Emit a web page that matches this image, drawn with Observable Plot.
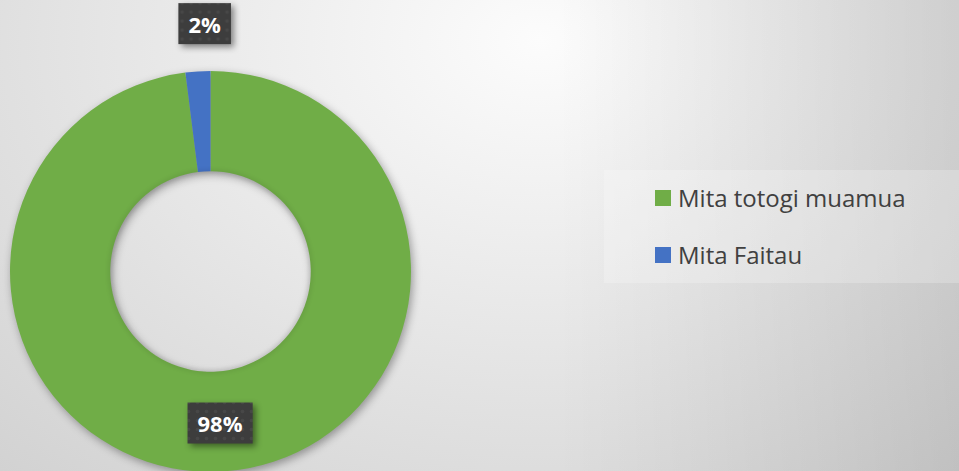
<!DOCTYPE html>
<html>
<head>
<meta charset="utf-8">
<script src="https://cdn.jsdelivr.net/npm/d3@7"></script>
<script src="https://cdn.jsdelivr.net/npm/@observablehq/plot@0.6"></script>
<style>
  html, body { margin: 0; padding: 0; }
  body { width: 959px; height: 471px; overflow: hidden; position: relative;
    font-family: "Open Sans", "Noto Sans", sans-serif;
    background:
      linear-gradient(to right, rgba(0,0,0,0) 58%, rgba(0,0,0,0.10) 100%),
      radial-gradient(ellipse 900px 650px at 540px 40px, #fcfcfc 0%, #cdcdcd 100%);
  }
  #chart { position: absolute; left: 0; top: 0; }
  #legend { position: absolute; left: 604px; top: 170px; width: 355px; height: 113px;
    background: rgba(255,255,255,0.22); }
  .item { position: absolute; left: 51px; display: flex; align-items: center; font-size: 24px; line-height: 24px; height: 24px; color: #404040; white-space: nowrap; }
  .sw { width: 16px; height: 16px; margin-right: 7px; flex: none; }
</style>
</head>
<body>
<div id="chart"></div>
<div id="legend"></div>
<script>
// ---- data ----
const categories = ["Mita totogi muamua", "Mita Faitau"];
const values = [98, 2];
const labels = ["98%", "2%"];
const palette = ["#70ad47", "#4472c4"];
// label anchor points in the chart's unit (radius = 1) coordinates
const labelX = [0.045, -0.032];
const labelY = [-0.763, 1.229];

const rows = categories.map((name, i) => ({ name, value: values[i], label: labels[i] }));
const pie = d3.pie().sort(null).value(d => d.value)(rows);
const labelRows = rows.map((d, i) => ({ label: d.label, x: labelX[i], y: labelY[i] }));
const colorOf = d3.scaleOrdinal(categories, palette);

const donutMark = (index, scales) => {
  const cx = scales.x(0), cy = scales.y(0);
  const R = scales.x(1) - cx;
  const arc = d3.arc().outerRadius(R).innerRadius(R * 0.5);
  const g = d3.create("svg:g")
    .attr("transform", `translate(${cx},${cy})`)
    .style("filter", "drop-shadow(2px 3px 4px rgba(0,0,0,0.35))");
  g.selectAll("path").data(pie).join("path")
    .attr("d", arc)
    .attr("fill", d => colorOf(d.data.name));
  g.append("circle").attr("r", R * 0.5).attr("fill", "none")
    .attr("stroke", "rgba(0,0,0,0.10)").attr("stroke-width", 3)
    .style("filter", "blur(2px)");
  return g.node();
};

const defsMark = () => {
  const defs = d3.create("svg:defs");
  const p = defs.append("pattern").attr("id", "dots").attr("width", 9).attr("height", 9).attr("patternUnits", "userSpaceOnUse");
  p.append("rect").attr("width", 9).attr("height", 9).attr("fill", "#3d3d3d");
  p.append("circle").attr("cx", 4.5).attr("cy", 4.5).attr("r", 1.8).attr("fill", "#474747");
  return defs.node();
};

const chart = Plot.plot({
  width: 959,
  height: 471,
  margin: 0,
  style: { background: "transparent", overflow: "visible" },
  x: { domain: [-1, 1], range: [10, 411], axis: null },
  y: { domain: [-1, 1], range: [472, 71], axis: null },
  marks: [
    defsMark,
    donutMark,
    Plot.text(labelRows, {
      x: "x", y: "y", text: "label",
      fill: "white", fontWeight: "bold", fontSize: 22,
      fontFamily: "Open Sans, sans-serif",
      className: "dlabels"
    })
  ]
});
document.getElementById("chart").appendChild(chart);

// label boxes behind text
d3.select(chart).selectAll("g.dlabels text").each(function () {
  const b = this.getBBox();
  const w = b.width + 20, h = 41;
  const cx = b.x + b.width / 2, cy = b.y + b.height / 2;
  const rect = document.createElementNS("http://www.w3.org/2000/svg", "rect");
  rect.setAttribute("x", cx - w / 2);
  rect.setAttribute("y", cy - h / 2);
  rect.setAttribute("width", w);
  rect.setAttribute("height", h);
  const tf = this.getAttribute("transform");
  if (tf) rect.setAttribute("transform", tf);
  rect.setAttribute("fill", "url(#dots)");
  rect.style.filter = "drop-shadow(3px 3px 3px rgba(0,0,0,0.45))";
  this.parentNode.insertBefore(rect, this);
});

// legend
const legend = d3.select("#legend");
categories.forEach((c, i) => {
  const it = legend.append("div").attr("class", "item").style("top", (i === 0 ? 16 : 72.7) + "px");
  it.append("div").attr("class", "sw").style("background", palette[i]);
  it.append("span").text(c);
});
</script>
</body>
</html>
